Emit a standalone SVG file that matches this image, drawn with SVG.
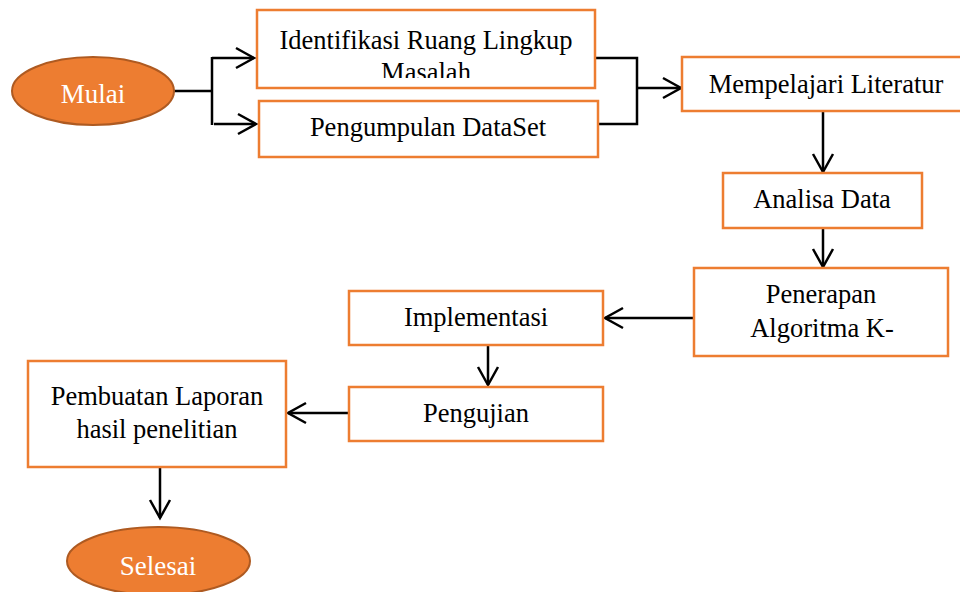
<svg xmlns="http://www.w3.org/2000/svg" width="960" height="592" viewBox="0 0 960 592">
<style>
.box{fill:#FFFFFF;stroke:#ED7D31;stroke-width:2.5}
.oval{fill:#ED7D31;stroke:#AE5A21;stroke-width:2}
.t{font-family:"Liberation Serif","Times New Roman",serif;font-size:26.5px;fill:#000;text-anchor:middle}
.tw{font-family:"Liberation Serif","Times New Roman",serif;font-size:27px;fill:#FFFFFF;text-anchor:middle}
.c{fill:none;stroke:#000;stroke-width:2.5}
</style>
<defs>
<marker id="arr" viewBox="-21 -12 24 24" markerWidth="24" markerHeight="24" refX="0" refY="0" markerUnits="userSpaceOnUse" orient="auto">
<path d="M-18,-10 L0,0 L-18,10" fill="none" stroke="#000" stroke-width="2.5"/>
</marker>
<clipPath id="clipId"><rect x="258" y="11" width="336" height="67"/></clipPath>
</defs>
<rect width="960" height="592" fill="#FFFFFF"/>
<g id="connectors">
<path class="c" d="M174,91 H212"/>
<path class="c" d="M212,57 V125"/>
<path class="c" d="M212,58 H254" marker-end="url(#arr)"/>
<path class="c" d="M214,124 H256" marker-end="url(#arr)"/>
<path class="c" d="M596,58 H637 V124 H599"/>
<path class="c" d="M637,88 H681" marker-end="url(#arr)"/>
<path class="c" d="M823,111 V172" marker-end="url(#arr)"/>
<path class="c" d="M823,228 V267" marker-end="url(#arr)"/>
<path class="c" d="M694,318 H605" marker-end="url(#arr)"/>
<path class="c" d="M488,345 V385" marker-end="url(#arr)"/>
<path class="c" d="M349,413 H288" marker-end="url(#arr)"/>
<path class="c" d="M160,467 V518" marker-end="url(#arr)"/>
</g>
<g id="mulai">
<ellipse class="oval" cx="93" cy="91" rx="81" ry="34"/>
<text class="tw" x="93" y="103">Mulai</text>
</g>
<g id="identifikasi">
<rect class="box" x="257" y="10" width="338" height="78"/>
<g clip-path="url(#clipId)">
<text class="t" x="426" y="49">Identifikasi Ruang Lingkup</text>
<text class="t" x="426" y="81">Masalah</text>
</g>
</g>
<g id="pengumpulan">
<rect class="box" x="259" y="101" width="339" height="56"/>
<text class="t" x="428" y="136">Pengumpulan DataSet</text>
</g>
<g id="mempelajari">
<rect class="box" x="682" y="57" width="290" height="54"/>
<text class="t" x="826" y="93">Mempelajari Literatur</text>
</g>
<g id="analisa">
<rect class="box" x="723" y="173" width="199" height="55"/>
<text class="t" x="822" y="208">Analisa Data</text>
</g>
<g id="penerapan">
<rect class="box" x="694" y="268" width="254" height="88"/>
<text class="t" x="821" y="303">Penerapan</text>
<text class="t" x="822" y="337">Algoritma K-</text>
</g>
<g id="implementasi">
<rect class="box" x="349" y="291" width="254" height="54"/>
<text class="t" x="476" y="326">Implementasi</text>
</g>
<g id="pengujian">
<rect class="box" x="349" y="387" width="254" height="54"/>
<text class="t" x="476" y="422">Pengujian</text>
</g>
<g id="pembuatan">
<rect class="box" x="28" y="361" width="258" height="106"/>
<text class="t" x="157" y="405">Pembuatan Laporan</text>
<text class="t" x="157" y="438">hasil penelitian</text>
</g>
<g id="selesai">
<ellipse class="oval" cx="158.5" cy="561" rx="91.5" ry="34"/>
<text class="tw" x="158" y="575">Selesai</text>
</g>
</svg>
